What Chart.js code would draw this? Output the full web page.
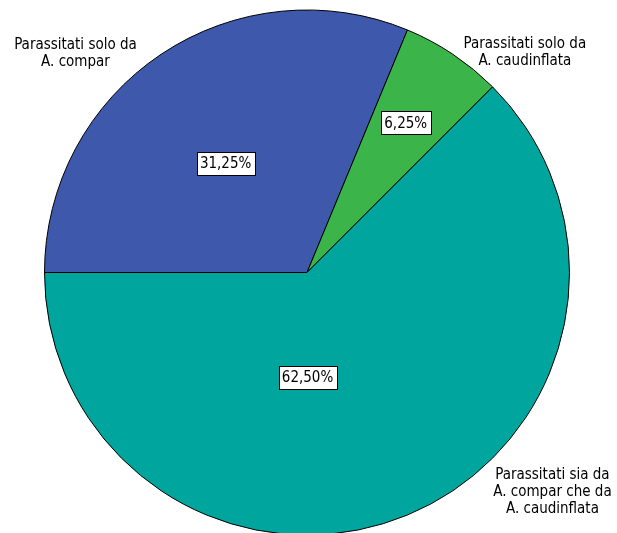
<!DOCTYPE html>
<html>
<head>
<meta charset="utf-8">
<script src="https://cdn.jsdelivr.net/npm/chart.js@4"></script>
<style>
  html, body { margin: 0; padding: 0; background: #fff; overflow: hidden; }
  #wrap { width: 617px; height: 536px; position: relative; }
</style>
</head>
<body>
<div id="wrap"><canvas id="c"></canvas></div>
<script>
const categories = [
    ["Parassitati solo da", "A. compar"],
    ["Parassitati solo da", "A. caudinflata"],
    ["Parassitati sia da", "A. compar che da", "A. caudinflata"]
];
const values = [31.25, 6.25, 62.50];
const colors = ['#3e58ac', '#3bb54a', '#00a59d'];

// label anchors, in units of radius from the pie centre
const outerPos = [[-0.882, -0.833], [0.830, -0.837], [0.935, 0.835]];
const innerPos = [[-0.31, -0.416], [0.376, -0.570], [0.002, 0.399]];

const FONT = '"DejaVu Sans Condensed", "DejaVu Sans", Verdana, sans-serif';

const labelPlugin = {
    id: 'sliceLabels',
    afterDraw(chart) {
        const ctx = chart.ctx;
        const arcs = chart.getDatasetMeta(0).data;
        ctx.save();
        ctx.textAlign = 'center';
        ctx.textBaseline = 'middle';
        arcs.forEach((arc, i) => {
            const cx = arc.x, cy = arc.y, r = arc.outerRadius;
            // category text near the rim
            ctx.font = '15px ' + FONT;
            ctx.fillStyle = '#000';
            const lines = categories[i];
            const lh = 17;
            const ox = cx + outerPos[i][0] * r;
            const oy = cy + outerPos[i][1] * r;
            lines.forEach((t, k) => {
                ctx.fillText(t, ox, oy + (k - (lines.length - 1) / 2) * lh);
            });
            // percentage box
            ctx.font = '15px ' + FONT;
            const txt = values[i].toFixed(2).replace('.', ',') + '%';
            const w = Math.round(ctx.measureText(txt).width + 7);
            const h = 23;
            const px = cx + innerPos[i][0] * r;
            const py = cy + innerPos[i][1] * r;
            const bx = Math.round(px - w / 2) + 0.5;
            const by = Math.round(py - h / 2) + 0.5;
            ctx.fillStyle = '#fff';
            ctx.fillRect(bx, by, w, h);
            ctx.strokeStyle = '#000';
            ctx.lineWidth = 1;
            ctx.strokeRect(bx, by, w, h);
            ctx.fillStyle = '#000';
            ctx.fillText(txt, px, py + 1);
        });
        ctx.restore();
    }
};

new Chart(document.getElementById('c'), {
    type: 'pie',
    data: {
        labels: categories.map(l => l.join(' ')),
        datasets: [{
            data: values,
            backgroundColor: colors,
            borderColor: '#000',
            borderWidth: 1
        }]
    },
    options: {
        responsive: true,
        maintainAspectRatio: false,
        animation: false,
        rotation: -90,
        layout: { padding: { left: 44, right: 47, top: 9, bottom: 0 } },
        plugins: {
            legend: { display: false },
            tooltip: { enabled: false }
        }
    },
    plugins: [labelPlugin]
});
</script>
</body>
</html>
